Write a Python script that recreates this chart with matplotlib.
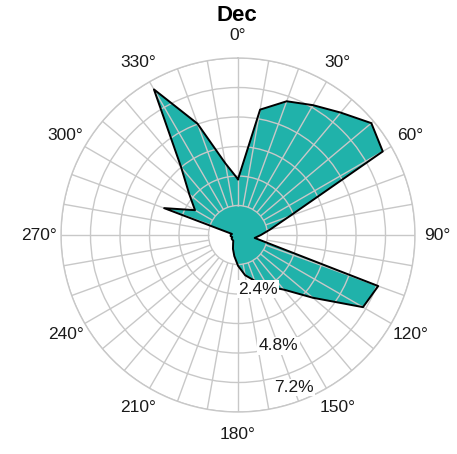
import numpy as np
import matplotlib
matplotlib.use("Agg")
import matplotlib.pyplot as plt

plt.rcParams["font.family"] = ["Liberation Sans", "DejaVu Sans"]

# ---------------------------------------------------------------
# Datos: frecuencia (%) por dirección (cada 10 grados), Dec
# ---------------------------------------------------------------
directions = np.arange(0, 360, 10)
freq = [2.27, 5.18, 5.79, 6.10, 6.50, 7.08, 6.80, 2.23, 1.34, 0.93,
        0.69, 6.07, 5.87, 3.97, 2.90, 2.42, 1.98, 1.66, 1.25, 0.87,
        0.60, 0.40, 0.30, 0.30, 0.30, 0.25, 0.30, 0.30, 0.25, 3.20,
        2.02, 2.59, 3.60, 6.84, 4.82, 2.96]

ring_levels = [1.2, 2.4, 3.6, 4.8, 6.0, 7.2]
ring_labels = ["2.4%", "4.8%", "7.2%"]
ring_label_r = [2.35, 4.8, 6.6]
angle_ticks = np.arange(0, 360, 30)
angle_labels = [f"{a}°" for a in angle_ticks]
title = "Dec"

grid_color = "#c8c8c8"
fill_color = "#20b2aa"

# ---------------------------------------------------------------
# Figura
# ---------------------------------------------------------------
fig = plt.figure(figsize=(4.57, 4.54), dpi=100)
ax = fig.add_axes([0.1335, 0.0925, 0.7746, 0.7797], projection="polar")
ax.set_theta_zero_location("N")
ax.set_theta_direction(-1)
ax.set_ylim(0, 7.2)

theta = np.deg2rad(np.append(directions, directions[0]))
r = np.append(freq, freq[0])
ax.fill(theta, r, color=fill_color, lw=0, zorder=1)
ax.plot(theta, r, color="black", lw=1.4, zorder=3)

# rejilla: anillos + radios cada 10 grados (por encima del relleno)
ax.set_rgrids(ring_levels)
ax.set_yticklabels([])
ax.yaxis.grid(True, color=grid_color, lw=1.0)
ax.xaxis.grid(False)
ax.set_xticks([])
ax.set_axisbelow(False)
ax.vlines(np.deg2rad(np.arange(0, 360, 10)), 1.2, 7.2, color=grid_color, lw=1.0, zorder=2.5)
ax.spines["polar"].set_color(grid_color)
ax.spines["polar"].set_linewidth(1.0)

# etiquetas de ángulo
for a, lab in zip(angle_ticks, angle_labels):
    ax.text(np.deg2rad(a), 8.1, lab, ha="center", va="center", fontsize=12.5, color="#1a1a1a")

# etiquetas radiales
for rv, lab in zip(ring_label_r, ring_labels):
    ax.text(np.deg2rad(160), rv, lab, ha="center", va="center", fontsize=12.5, color="#1a1a1a",
            zorder=5, bbox=dict(fc="white", ec="none", pad=1.0))

fig.text(0.519, 0.966, title, ha="center", va="center", fontsize=16, fontweight="bold")

fig.savefig("out.png", dpi=100)
